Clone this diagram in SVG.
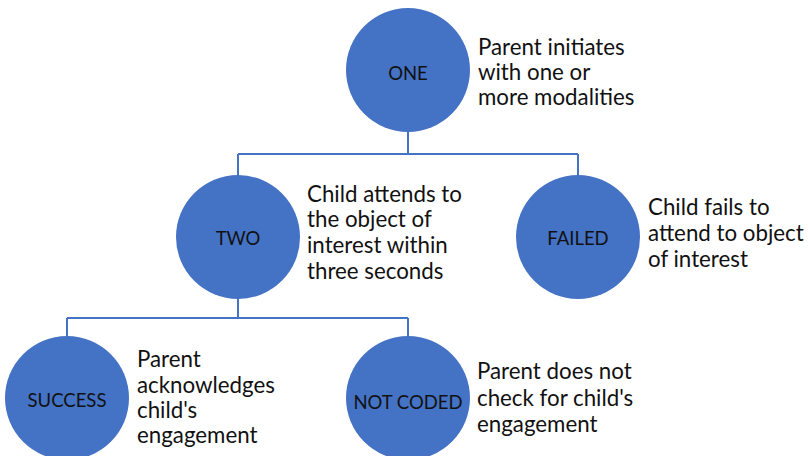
<svg xmlns="http://www.w3.org/2000/svg" width="809" height="456" viewBox="0 0 809 456">
<style>
.node circle{fill:#4472C4;}
.lbl{font-family:Lato,"Open Sans","Liberation Sans",sans-serif;font-size:18.5px;fill:#111;text-anchor:middle;dominant-baseline:central;}
.desc{font-family:Lato,"Open Sans","Liberation Sans",sans-serif;font-size:22.3px;fill:#111;}
.conn{stroke:#4472C4;stroke-width:2;fill:none;}
</style>
<rect width="809" height="456" fill="#fff"/>
<g id="connectors" class="conn">
<path d="M408,132 V154 M238,154 H578 M238,154 V175 M578,154 V175"/>
<path d="M238,298 V318 M67,318 H408 M67,318 V336 M408,318 V336"/>
</g>
<g id="one" class="node">
<circle cx="408" cy="70" r="62"/>
<text class="lbl" x="408" y="73">ONE</text>
<text class="desc" x="478" y="55">Parent initiates</text>
<text class="desc" x="478" y="80">with one or</text>
<text class="desc" x="478" y="105">more modalities</text>
</g>
<g id="two" class="node">
<circle cx="238" cy="237" r="62"/>
<text class="lbl" x="238" y="238">TWO</text>
<text class="desc" x="307" y="202">Child attends to</text>
<text class="desc" x="307" y="227">the object of</text>
<text class="desc" x="307" y="253">interest within</text>
<text class="desc" x="307" y="279">three seconds</text>
</g>
<g id="failed" class="node">
<circle cx="578" cy="237" r="62"/>
<text class="lbl" x="578" y="238">FAILED</text>
<text class="desc" x="648" y="215">Child fails to</text>
<text class="desc" x="648" y="241">attend to object</text>
<text class="desc" x="648" y="267">of interest</text>
</g>
<g id="success" class="node">
<circle cx="67" cy="398" r="62"/>
<text class="lbl" x="67" y="400">SUCCESS</text>
<text class="desc" x="137" y="367">Parent</text>
<text class="desc" x="137" y="393">acknowledges</text>
<text class="desc" x="137" y="418">child's</text>
<text class="desc" x="137" y="443">engagement</text>
</g>
<g id="notcoded" class="node">
<circle cx="408" cy="398" r="62"/>
<text class="lbl" x="408" y="402">NOT CODED</text>
<text class="desc" x="477" y="379">Parent does not</text>
<text class="desc" x="477" y="406">check for child's</text>
<text class="desc" x="477" y="432">engagement</text>
</g>
</svg>
